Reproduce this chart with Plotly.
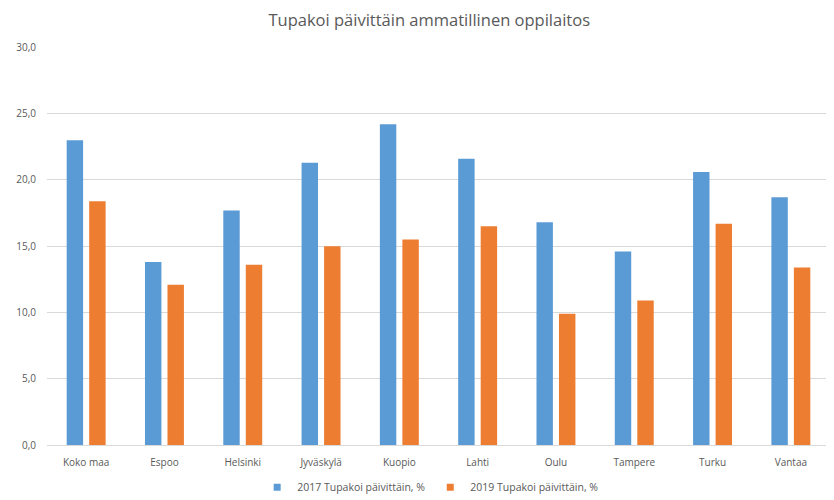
"""Daily smoking among vocational students, 2017 vs 2019."""

import plotly.graph_objects as go

CITIES = ["Koko maa", "Espoo", "Helsinki", "Jyväskylä", "Kuopio",
          "Lahti", "Oulu", "Tampere", "Turku", "Vantaa"]
SMOKING_2017 = [23.0, 13.8, 17.7, 21.3, 24.2, 21.6, 16.8, 14.6, 20.6, 18.7]
SMOKING_2019 = [18.4, 12.1, 13.6, 15.0, 15.5, 16.5, 9.9, 10.9, 16.7, 13.4]
SERIES_NAMES = ["2017 Tupakoi päivittäin, %", "2019 Tupakoi päivittäin, %"]
Y_TICKS = [0, 5, 10, 15, 20, 25, 30]

BLUE = "#5B9BD5"
ORANGE = "#ED7D31"
TEXT = "#595959"
GRID = "#D9D9D9"
FONT = "Open Sans, Liberation Sans, sans-serif"

fig = go.Figure()
for values, name, color in [(SMOKING_2017, SERIES_NAMES[0], BLUE),
                            (SMOKING_2019, SERIES_NAMES[1], ORANGE)]:
    fig.add_trace(go.Bar(
        x=CITIES, y=values, name=name, showlegend=False,
        marker={"color": color, "line": {"width": 0}},
    ))
# small square legend keys, like the spreadsheet legend
for name, color in zip(SERIES_NAMES, [BLUE, ORANGE]):
    fig.add_trace(go.Scatter(
        x=[None], y=[None], mode="markers", name=name,
        marker={"symbol": "square", "size": 7, "color": color},
    ))

# the page body adds an 8px offset, so the figure is 8px smaller
fig.update_layout(
    width=826, height=492,
    paper_bgcolor="white", plot_bgcolor="white",
    separators=", ",
    font={"family": FONT, "color": TEXT, "size": 10},
    title={"text": "Tupakoi päivittäin ammatillinen oppilaitos",
           "x": 0.51, "xanchor": "center", "y": 0.976, "yanchor": "middle",
           "font": {"size": 16.5, "color": TEXT, "family": FONT}},
    margin={"l": 39, "r": 4, "t": 39, "b": 55},
    barmode="group", bargap=0.425, bargroupgap=0.27,
    legend={"orientation": "h", "x": 0.49, "xanchor": "center",
            "yref": "container", "y": 0.026, "yanchor": "middle",
            "font": {"size": 10.5, "color": TEXT}, "itemwidth": 30,
            "tracegroupgap": 0},
)
fig.update_xaxes(
    showgrid=False, showline=True, linecolor=GRID, linewidth=1,
    ticks="", tickfont={"size": 10, "color": TEXT}, ticklabelstandoff=8,
)
fig.update_yaxes(
    range=[0, 30.03], tickvals=Y_TICKS, tickformat=".1f",
    showgrid=True, gridcolor=GRID, gridwidth=1, zeroline=False,
    showline=False, tickfont={"size": 10, "color": TEXT}, ticklabelstandoff=10,
)

fig.write_html("out.html")
